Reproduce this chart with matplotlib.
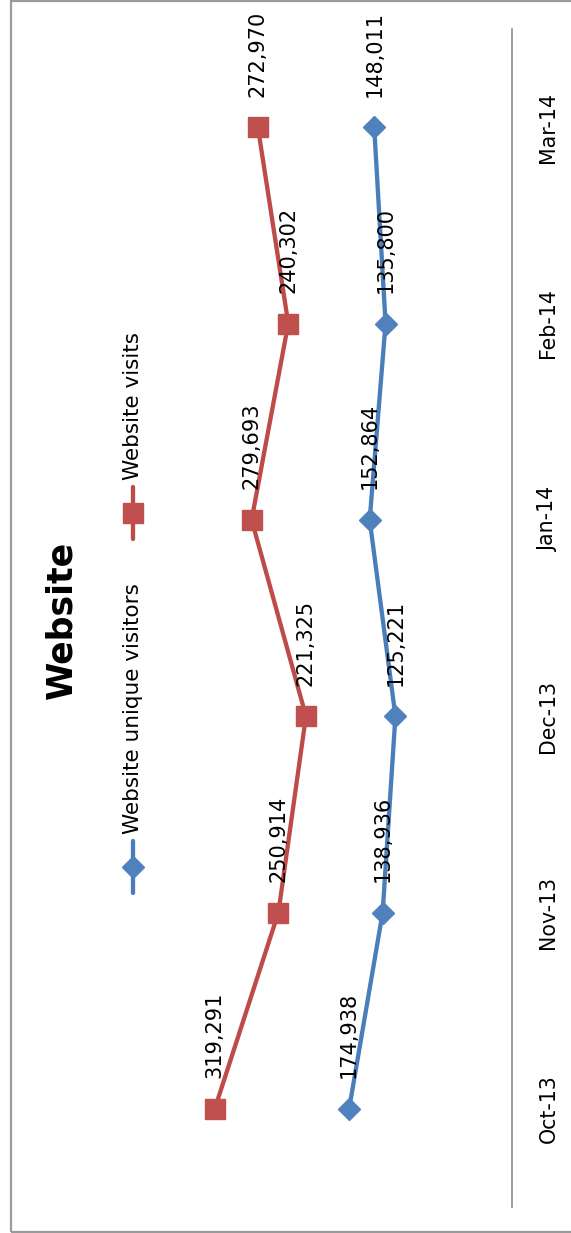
import matplotlib
matplotlib.use("Agg")
import matplotlib.pyplot as plt
from matplotlib.lines import Line2D
from matplotlib.patches import Rectangle

plt.rcParams['font.family'] = ['DejaVu Sans']

# ---- data ----
months = ['Oct-13', 'Nov-13', 'Dec-13', 'Jan-14', 'Feb-14', 'Mar-14']
unique_visitors = [174938, 138936, 125221, 152864, 135800, 148011]
visits = [319291, 250914, 221325, 279693, 240302, 272970]
series_names = ['Website unique visitors', 'Website visits']
title = 'Website'

# ---- styling ----
W, H = 571, 1233
BLUE_LINE, BLUE_MARK = '#4A7EBB', '#4F81BD'
RED_LINE, RED_MARK = '#BE4B48', '#C0504D'
AXIS_GREY = '#8C8C8C'
LABEL_SIZE = 15
TICK_SIZE = 14.8
LEGEND_SIZE = 15.5
LINE_W = 3.1


def fx(px):
    return px / W


def fy(py):
    return 1 - py / H


fig = plt.figure(figsize=(W / 100, H / 100), dpi=100)
fig.patch.set_facecolor('white')

# chart-area border (right side runs off the canvas)
fig.add_artist(Rectangle((fx(11), fy(1232)), fx(600) - fx(11), fy(1) - fy(1232),
                         transform=fig.transFigure, fill=False,
                         edgecolor='#9A9A9A', linewidth=1.6, clip_on=False))

# plot area: categories run bottom-to-top, values grow to the left
ax = fig.add_axes([fx(139.6), fy(1207), (512 - 139.6) / W, (1207 - 29) / H])
ax.set_facecolor('none')
idx = list(range(len(months)))

ax.plot(unique_visitors, idx, color=BLUE_LINE, linewidth=LINE_W,
        marker='D', markersize=11, markerfacecolor=BLUE_MARK,
        markeredgecolor=BLUE_MARK, solid_capstyle='round', zorder=3)
ax.plot(visits, idx, color=RED_LINE, linewidth=LINE_W,
        marker='s', markersize=14, markerfacecolor=RED_MARK,
        markeredgecolor=RED_MARK, solid_capstyle='round', zorder=3)

for series in (unique_visitors, visits):
    for i, v in zip(idx, series):
        ax.annotate(f'{v:,}', (v, i), xytext=(0, 22), textcoords='offset points',
                    rotation=90, ha='center', va='bottom', fontsize=LABEL_SIZE,
                    color='black', zorder=4)

ax.set_xlim(400000, 0)
ax.set_ylim(-0.5, len(months) - 0.5)
ax.set_xticks([])
ax.yaxis.tick_right()
ax.set_yticks(idx)
ax.set_yticklabels(months, rotation=90, va='center', ha='left')
ax.tick_params(axis='y', length=0, pad=19, labelsize=TICK_SIZE, labelcolor='black')
for side in ('left', 'top', 'bottom'):
    ax.spines[side].set_visible(False)
ax.spines['right'].set_color(AXIS_GREY)
ax.spines['right'].set_linewidth(1.2)

# title
fig.text(fx(61), fy(620), title, rotation=90, ha='center', va='center',
         fontsize=25, fontweight='bold', color='black')

# legend entries
legend_items = [
    (series_names[0], BLUE_LINE, BLUE_MARK, 'D', 11, 867),
    (series_names[1], RED_LINE, RED_MARK, 's', 14, 513),
]
for name, lc, mc, mk, ms, yc in legend_items:
    fig.add_artist(Line2D([fx(133), fx(133)], [fy(yc + 26), fy(yc - 26)],
                          transform=fig.transFigure, color=lc, linewidth=LINE_W,
                          solid_capstyle='round'))
    fig.add_artist(Line2D([fx(133)], [fy(yc)], transform=fig.transFigure,
                          marker=mk, markersize=ms, markerfacecolor=mc,
                          markeredgecolor=mc, linestyle='none'))
    fig.text(fx(133), fy(yc - 33), name, rotation=90, ha='center', va='bottom',
             fontsize=LEGEND_SIZE, color='black')

fig.savefig('out.png', dpi=100, facecolor='white')
